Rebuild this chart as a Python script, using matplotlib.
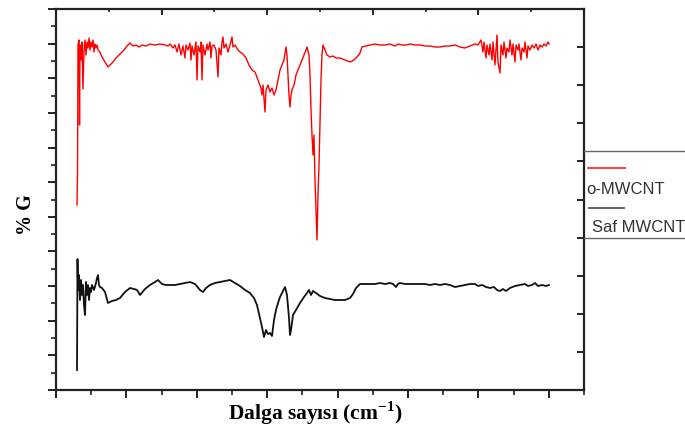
import numpy as np
import matplotlib
matplotlib.use("Agg")
import matplotlib.pyplot as plt
from matplotlib.lines import Line2D

plt.rcParams['mathtext.fontset'] = 'custom'
plt.rcParams['mathtext.rm'] = 'Liberation Serif:bold'
plt.rcParams['mathtext.bf'] = 'Liberation Serif:bold'

# ---- data (wavenumber cm-1, %G in arbitrary offset units) ----
o_mwcnt_x = [4000, 3996.25, 3992.5, 3985, 3981, 3977.5, 3970, 3962.5, 3955, 3947.5, 3940, 3932.5,
             3925, 3917.5, 3910, 3902.5, 3895, 3887.5, 3880, 3872.5, 3865, 3857.5, 3850, 3842.5,
             3827.5, 3812.5, 3790, 3767.5, 3752.5, 3730, 3707.5, 3677.5, 3647.5, 3625, 3602.5,
             3580, 3557.5, 3535, 3512.5, 3482.5, 3452.5, 3415, 3377.5, 3340, 3317.5, 3302.5, 3280,
             3265, 3250, 3235, 3220, 3205, 3190, 3182.5, 3167.5, 3152.5, 3145, 3137.5, 3122.5,
             3107.5, 3100, 3092.5, 3077.5, 3070, 3062.5, 3055, 3040, 3025, 3017.5, 3002.5, 2995,
             2987.5, 2972.5, 2957.5, 2942.5, 2935, 2920, 2912.5, 2905, 2897.5, 2882.5, 2867.5,
             2852.5, 2837.5, 2830, 2815, 2792.5, 2777.5, 2755, 2732.5, 2710, 2687.5, 2665, 2642.5,
             2620, 2612.5, 2605, 2590, 2582.5, 2567.5, 2552.5, 2537.5, 2522.5, 2507.5, 2492.5,
             2477.5, 2462.5, 2447.5, 2432.5, 2425, 2417.5, 2410, 2402.5, 2395, 2387.5, 2372.5,
             2357.5, 2342.5, 2327.5, 2312.5, 2297.5, 2282.5, 2275, 2260, 2252.5, 2245, 2237.5,
             2230, 2222.5, 2215, 2207.5, 2200, 2192.5, 2185, 2177.5, 2170, 2162.5, 2155, 2140,
             2125, 2102.5, 2080, 2057.5, 2027.5, 1990, 1952.5, 1922.5, 1900, 1877.5, 1862.5,
             1832.5, 1802.5, 1765, 1727.5, 1690, 1652.5, 1615, 1592.5, 1562.5, 1532.5, 1502.5,
             1465, 1427.5, 1390, 1352.5, 1315, 1277.5, 1240, 1202.5, 1165, 1127.5, 1090, 1052.5,
             1015, 992.5, 970, 955, 947.5, 932.5, 925, 910, 902.5, 887.5, 880, 865, 857.5, 850,
             842.5, 827.5, 820, 805, 797.5, 782.5, 775, 760, 752.5, 737.5, 730, 715, 707.5, 692.5,
             685, 670, 662.5, 647.5, 640, 625, 617.5, 602.5, 587.5, 572.5, 557.5, 542.5, 527.5,
             512.5, 497.5, 482.5, 467.5, 460]
o_mwcnt_y = [46.25, 53.75, 86.25, 87.5, 66.25, 86.25, 82.5, 87, 75.25, 85, 87.5, 83.75,
             87, 85.5, 88, 85, 87, 85.75, 87.5, 84.5, 86.5, 85.5, 86.25, 85,
             84.5, 83.25, 82, 80.75, 81.25, 82, 83, 84, 85, 86, 86.75,
             86, 86.25, 85.75, 86.25, 86, 86.5, 86.25, 86.5, 86.25, 86, 86.5, 85.5,
             86.25, 84.5, 86.5, 83.75, 86, 83, 86.25, 85, 86.75, 82.5, 86, 83.75,
             87, 77.5, 86, 84.5, 87, 77.5, 86.25, 83.75, 86.5, 85, 87, 83,
             86, 86.25, 85, 78.25, 85.5, 83.75, 87, 88.25, 85.5, 86.5, 84.5,
             86.25, 88.25, 85.75, 86.25, 85, 84.5, 84, 83, 81.25, 80, 79.5, 77.5,
             75.5, 73.75, 76.25, 69.5, 75, 76.25, 74.5, 75.5, 73.75, 75, 77.5,
             80, 81.25, 82.5, 85.75, 83.75, 78.75, 73.75, 70.75, 73.75, 75, 76.25,
             78.75, 80, 81.25, 82.5, 83.75, 85, 85.75, 83.75, 78.75, 70, 63.75,
             58.75, 63.75, 52.5, 45, 37.5, 48.75, 56.25, 67.5, 77.5, 83.75, 86.25, 85,
             83.75, 83.25, 83.5, 83, 83, 82.5, 82, 82.5, 83.25, 84.25, 85.75,
             86, 86.25, 86.5, 86.25, 86.25, 86.5, 86, 86.5, 86.25, 86.25, 86.5,
             86.25, 86.25, 86, 86, 85.75, 85.75, 86, 86, 86.25, 85.75, 85.5, 86,
             86.5, 86.25, 87.5, 84.5, 87, 83, 86.25, 83.75, 86.5, 82.5, 87, 81.25, 85, 88.75,
             82, 79.25, 86.25, 83.75, 87, 83, 85.5, 84.5, 87.5, 83.75, 86.5, 82, 86.25, 85,
             86.5, 82.5, 85.5, 84.5, 87, 83, 86, 85, 86.25, 85.5, 86.5, 85, 86.25,
             85.75, 86.5, 86, 87, 86.5]

saf_mwcnt_x = [4000, 3996.25, 3992.5, 3985, 3977.5, 3970, 3962.5, 3955, 3947.5, 3940, 3932.5,
               3925, 3917.5, 3910, 3902.5, 3895, 3887.5, 3872.5, 3857.5, 3850, 3842.5, 3835,
               3827.5, 3812.5, 3790, 3767.5, 3737.5, 3707.5, 3677.5, 3640, 3602.5, 3572.5, 3550,
               3527.5, 3490, 3452.5, 3415, 3392.5, 3362.5, 3332.5, 3302.5, 3265, 3227.5, 3190,
               3152.5, 3115, 3077.5, 3055, 3032.5, 3002.5, 2965, 2927.5, 2890, 2852.5, 2815,
               2777.5, 2740, 2702.5, 2672.5, 2650, 2627.5, 2612.5, 2597.5, 2582.5, 2567.5,
               2552.5, 2537.5, 2522.5, 2507.5, 2492.5, 2477.5, 2455, 2440, 2425, 2410, 2402.5,
               2395, 2380, 2357.5, 2327.5, 2297.5, 2275, 2260, 2245, 2230, 2207.5, 2177.5, 2140,
               2102.5, 2065, 2027.5, 1990, 1952.5, 1930, 1907.5, 1877.5, 1840, 1802.5, 1765,
               1727.5, 1690, 1652.5, 1630, 1607.5, 1592.5, 1577.5, 1540, 1502.5, 1465, 1427.5,
               1390, 1352.5, 1315, 1277.5, 1240, 1202.5, 1165, 1127.5, 1090, 1052.5, 1015, 992.5,
               962.5, 932.5, 902.5, 872.5, 850, 827.5, 805, 782.5, 752.5, 715, 677.5, 640, 617.5,
               587.5, 565, 542.5, 512.5, 482.5, 460]
saf_mwcnt_y = [5, 32.75, 25, 28.75, 22.5, 27.5, 23.75, 26.25, 21.25, 18.75, 27,
               23.75, 26.25, 22.5, 25.5, 24.5, 26.25, 25, 26.75, 28, 28.75, 26.25,
               25.75, 25.5, 24.5, 21.75, 22.25, 22.5, 23, 24.5, 25.5, 25.25, 25,
               23.75, 25.25, 26.25, 27, 27.5, 26.5, 26.25, 26.25, 26.25, 26.5, 26.75,
               27, 26.5, 25, 24.5, 25.5, 26.25, 26.75, 27, 27.25, 27.5, 26.75,
               26, 25, 24.25, 23, 21.25, 18, 15.75, 13.25, 15, 14,
               14.25, 13.5, 17.5, 20, 21.75, 23.25, 24.75, 25.75, 23.75, 18, 13.75,
               15, 18.75, 20, 21.75, 23.25, 24.25, 25, 23.75, 24.75, 24.25, 23.5, 23,
               22.75, 22.5, 22.5, 22.5, 23, 24, 25.5, 26.5, 26.5, 26.5, 26.5,
               26.75, 26.5, 26.75, 26.5, 25.75, 26.5, 26.75, 26.5, 26.5, 26.5, 26.5,
               26.5, 26.25, 26.5, 26.25, 26.5, 26.25, 25.75, 26, 26.25, 26.5, 26.5, 26,
               26.25, 25.75, 25.5, 25.75, 25, 24.75, 25.25, 24.75, 25.5, 26, 26.25, 26.5, 26,
               26.25, 26.75, 26, 26.25, 26, 26.25]

series_labels = ["o-MWCNT", "Saf MWCNT"]
x_label = r"Dalga sayısı (cm$^{\mathbf{-1}}$)"
y_label = "% G"

# ---- figure ----
fig = plt.figure(figsize=(6.85, 4.32), dpi=100)
L, R, B, T = 56/685, 584/685, 1 - 390/432, 1 - 9/432
ax = fig.add_axes([L, B, R - L, T - B])

ax.plot(o_mwcnt_x, o_mwcnt_y, color='#ff0000', lw=1.0)
ax.plot(saf_mwcnt_x, saf_mwcnt_y, color='#111111', lw=1.3)

xl, xr = 4157.5, 197.5
ax.set_xlim(xl, xr)
ax.set_ylim(0, 95.25)

spine_c = '#222222'
for s in ax.spines.values():
    s.set_linewidth(1.6)
    s.set_color(spine_c)

# left ticks (outward)
yt = np.linspace(0, 95.25, 12)
ax.set_yticks(yt)
ax.set_yticks((yt[:-1] + yt[1:]) / 2, minor=True)
# bottom ticks (outward)
xt = np.linspace(xl, xr, 16)
ax.set_xticks(xt[::2])
ax.set_xticks(xt[1::2], minor=True)
ax.tick_params(axis='both', which='major', direction='out', length=6, width=1.4,
               color=spine_c, labelleft=False, labelbottom=False)
ax.tick_params(axis='both', which='minor', direction='out', length=3.5, width=1.2,
               color=spine_c)

# top ticks (inward)
axt = ax.twiny()
axt.set_xlim(0, 10)
axt.set_xticks(np.arange(0, 11, 2))
axt.set_xticks(np.arange(1, 10, 2), minor=True)
axt.tick_params(axis='x', which='major', direction='in', length=4, width=1.4,
                color=spine_c, labeltop=False)
axt.tick_params(axis='x', which='minor', direction='in', length=2.5, width=1.2,
                color=spine_c)
# right ticks (inward)
axr = ax.twinx()
axr.set_ylim(0, 10)
axr.set_yticks(np.arange(0, 11, 1))
axr.tick_params(axis='y', which='major', direction='in', length=5, width=1.4,
                color=spine_c, labelright=False)
for a in (axt, axr):
    for s in a.spines.values():
        s.set_visible(False)

fig.text(315/685, 1 - 413/432, x_label, ha='center', va='center',
         fontsize=15.5, fontweight='bold', family='Liberation Serif')
fig.text(26/685, 1 - 215/432, y_label, ha='center', va='center', rotation=90,
         fontsize=14.5, fontweight='bold', family='Liberation Serif')

# legend (outside, clipped at the right edge)
lc = '#666666'
fig.add_artist(Line2D([584/685, 1.0], [1 - 151/432, 1 - 151/432], color=lc, lw=1.0))
fig.add_artist(Line2D([584/685, 1.0], [1 - 238/432, 1 - 238/432], color=lc, lw=1.0))
fig.add_artist(Line2D([588/685, 625/685], [1 - 168/432, 1 - 168/432], color='#ff3030', lw=1.3))
fig.add_artist(Line2D([589/685, 624/685], [1 - 208/432, 1 - 208/432], color='#555555', lw=1.3))
fig.text(586/685, 1 - 189/432, series_labels[0], ha='left', va='center',
         fontsize=12, family='Liberation Sans', color='#333333')
fig.text(592/685, 1 - 228/432, series_labels[1], ha='left', va='center',
         fontsize=12, family='Liberation Sans', color='#333333')

fig.savefig('out.png', dpi=100)
